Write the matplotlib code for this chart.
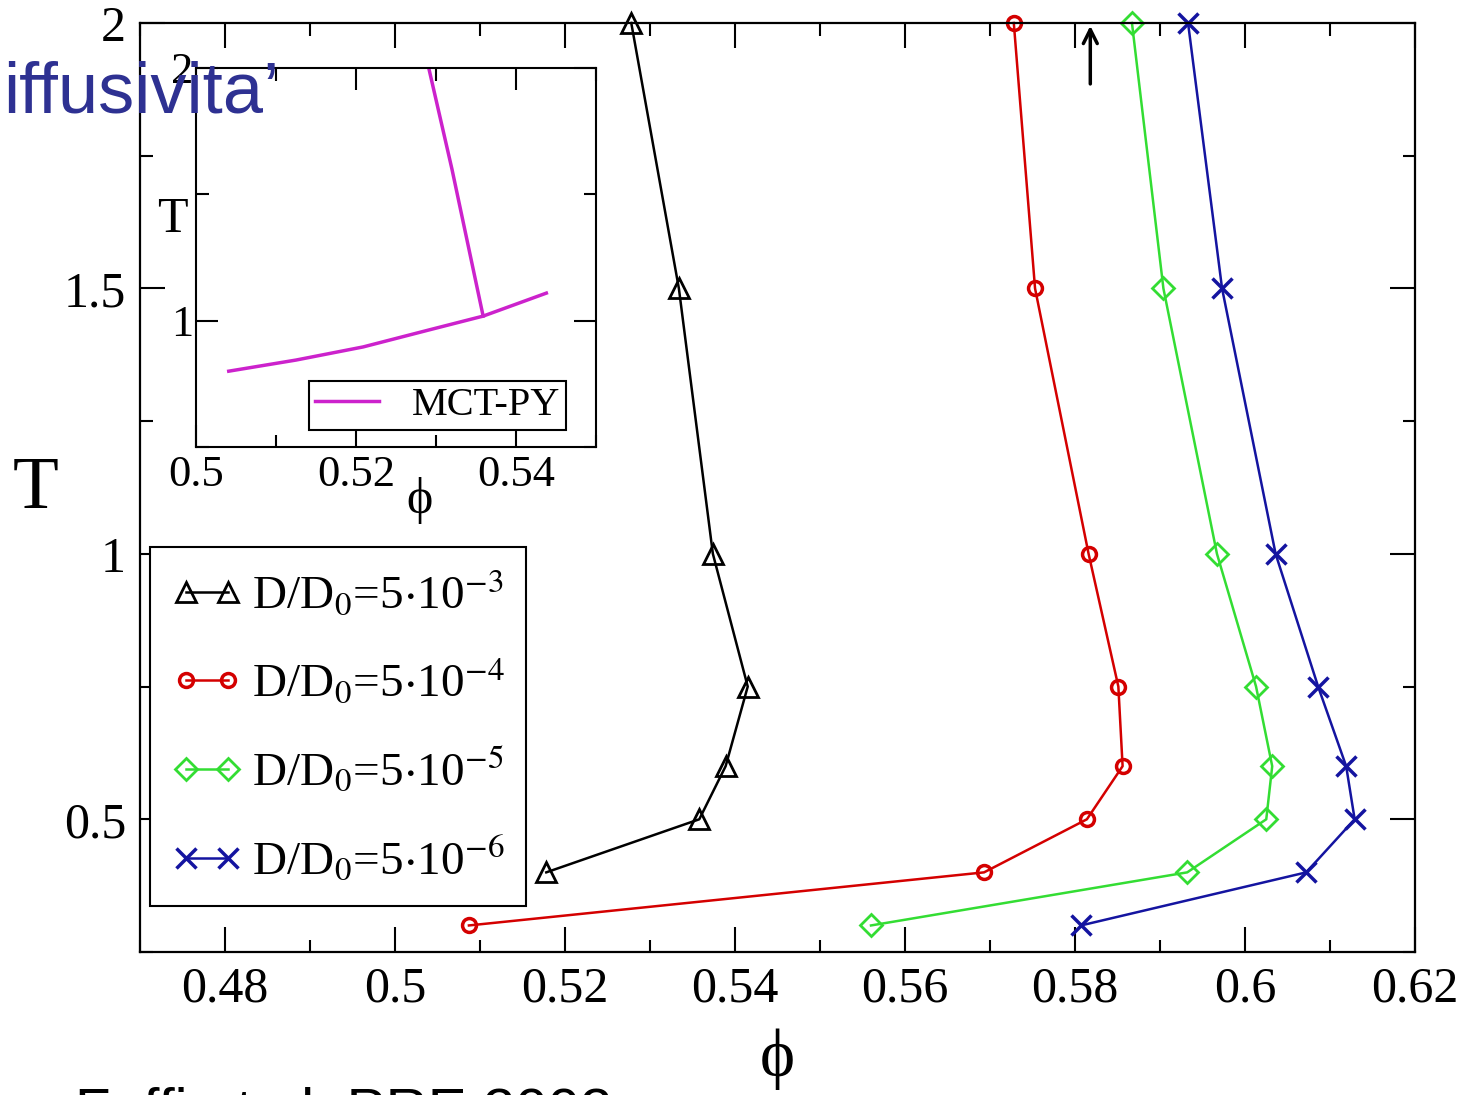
import numpy as np
import matplotlib.pyplot as plt
from matplotlib.ticker import MultipleLocator

plt.rcParams['font.family'] = ['Liberation Serif', 'DejaVu Serif']
plt.rcParams['mathtext.fontset'] = 'stix'

# Temperature levels
T_all = [2.0, 1.5, 1.0, 0.75, 0.6, 0.5, 0.4, 0.3]

# phi at fixed D/D0
phi_3 = [0.5278, 0.5334, 0.5374, 0.5415, 0.5389, 0.5358, 0.5178]
phi_4 = [0.5728, 0.5753, 0.5816, 0.5851, 0.5856, 0.5814, 0.5693, 0.5087]
phi_5 = [0.5867, 0.5904, 0.5967, 0.6013, 0.6032, 0.6025, 0.5932, 0.5560]
phi_6 = [0.5933, 0.5973, 0.6036, 0.6086, 0.6119, 0.6129, 0.6072, 0.5807]

labels = [r'D/D$_0$=5$\cdot$10$^{-3}$', r'D/D$_0$=5$\cdot$10$^{-4}$',
          r'D/D$_0$=5$\cdot$10$^{-5}$', r'D/D$_0$=5$\cdot$10$^{-6}$']

# MCT-PY curve for the inset (two branches)
mct_low_phi = [0.5041, 0.5125, 0.5209, 0.5291, 0.5359, 0.5438]
mct_low_T = [0.80, 0.844, 0.896, 0.963, 1.018, 1.109]
mct_up_phi = [0.5291, 0.5320, 0.5359]
mct_up_T = [2.0, 1.6, 1.018]

fig = plt.figure(figsize=(14.7, 10.95), dpi=100)
ax = fig.add_axes([0.0952, 0.1306, 0.8674, 0.8484])

ax.plot(phi_3, T_all[:len(phi_3)], '-', color='black', marker='^', ms=14, mfc='none',
        mew=2, lw=1.8, label=labels[0], clip_on=False)
ax.plot(phi_4, T_all, '-', color='#d40000', marker='o', ms=10, mfc='none',
        mew=2.5, lw=1.8, label=labels[1], clip_on=False)
ax.plot(phi_5, T_all, '-', color='#33dd33', marker='D', ms=11, mfc='none',
        mew=2, lw=1.8, label=labels[2], clip_on=False)
ax.plot(phi_6, T_all, '-', color='#1414a0', marker='x', ms=14,
        mew=2.5, lw=1.8, label=labels[3], clip_on=False)

ax.set_xlim(0.47, 0.62)
ax.set_ylim(0.25, 2.0)
ax.xaxis.set_minor_locator(MultipleLocator(0.01))
ax.yaxis.set_minor_locator(MultipleLocator(0.25))
ax.set_xticks([0.48, 0.5, 0.52, 0.54, 0.56, 0.58, 0.6, 0.62])
ax.set_xticklabels(['0.48', '0.5', '0.52', '0.54', '0.56', '0.58', '0.6', '0.62'])
ax.set_yticks([0.5, 1.0, 1.5, 2.0])
ax.set_yticklabels(['0.5', '1', '1.5', '2'])
ax.tick_params(which='both', direction='in', top=True, right=True, width=1.5)
ax.tick_params(which='major', length=18, labelsize=36, pad=10)
ax.tick_params(which='minor', length=9)
for s in ax.spines.values():
    s.set_linewidth(1.6)

ax.set_xlabel('\u03d5', fontsize=48, va='center')
ax.xaxis.set_label_coords(0.5, -0.115)
ax.set_ylabel('T', fontsize=54, rotation=0, va='center', ha='center')
ax.yaxis.set_label_coords(-0.082, 0.497)

leg = ax.legend(loc='lower left', bbox_to_anchor=(0.008, 0.05), fontsize=34,
                frameon=True, fancybox=False, framealpha=1, edgecolor='black',
                numpoints=2, handlelength=1.5, handletextpad=0.2,
                labelspacing=0.82, borderpad=0.45, borderaxespad=0)
leg.get_frame().set_linewidth(1.5)

# arrow near the top
ax.annotate('', xy=(0.5818, 2.0), xytext=(0.5818, 1.88),
            arrowprops=dict(arrowstyle='->', color='black', lw=2.5, mutation_scale=25))

# inset
axin = fig.add_axes([0.1333, 0.5918, 0.2721, 0.3461])
axin.plot(mct_low_phi, mct_low_T, '-', color='#cc22cc', lw=2.5, label='MCT-PY')
axin.plot(mct_up_phi, mct_up_T, '-', color='#cc22cc', lw=2.5)
axin.set_xlim(0.5, 0.55)
axin.set_ylim(0.5, 2.0)
axin.set_xticks([0.5, 0.52, 0.54])
axin.set_xticklabels(['0.5', '0.52', '0.54'])
axin.xaxis.set_minor_locator(MultipleLocator(0.01))
axin.set_yticks([1.0, 2.0])
axin.set_yticklabels(['1', '2'])
axin.yaxis.set_minor_locator(MultipleLocator(0.5))
axin.tick_params(which='both', direction='in', top=True, right=True, width=1.5)
axin.tick_params(which='major', length=16, labelsize=32, pad=6)
axin.tick_params(which='minor', length=9)
axin.tick_params(axis='y', pad=2)
for s in axin.spines.values():
    s.set_linewidth(1.5)
axin.text(0.56, -0.14, '\u03d5', transform=axin.transAxes, fontsize=36,
          ha='center', va='center')
axin.text(-0.06, 0.60, 'T', transform=axin.transAxes, fontsize=36,
          ha='center', va='center')
lin = axin.legend(loc='lower right', bbox_to_anchor=(0.925, 0.045), fontsize=29,
                  frameon=True, fancybox=False, framealpha=1, edgecolor='black',
                  handlelength=1.6, handletextpad=0.8, borderpad=0.15, borderaxespad=0)
lin.get_frame().set_linewidth(1.5)

# slide text overlays
fig.text(0.002, 0.914, 'iffusivita\u2019', fontsize=52, color='#2e3192',
         family=['Liberation Sans', 'DejaVu Sans'], ha='left', va='center')
fig.text(0.051, 0.0075, 'Foffi et al. PRE 2002', fontsize=42, color='black',
         family=['Liberation Sans', 'DejaVu Sans'], ha='left', va='top')

fig.savefig('out.png', dpi=100)
